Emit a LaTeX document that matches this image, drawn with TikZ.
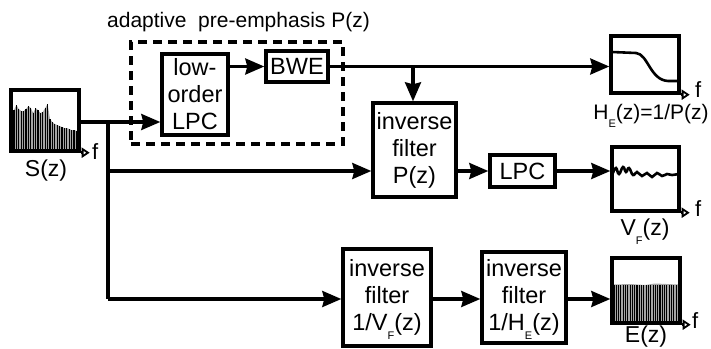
\documentclass[tikz,border=0pt]{standalone}
\usepackage{fontspec}
\setmainfont{Liberation Sans}
\usetikzlibrary{arrows.meta}
\newcommand\lsub[1]{\raisebox{-8.5pt}[0pt][0pt]{\fontsize{11}{11}\selectfont #1}}
\begin{document}
\begin{tikzpicture}[x=1pt,y=-1pt,
  blk/.style={draw, line width=3.4pt, fill=white, align=center, inner sep=0pt, font=\fontsize{23.5}{27}\selectfont},
  plotbox/.style={draw, line width=3.4pt, inner sep=0pt},
  conn/.style={line width=3.1pt, -{Stealth[length=19pt,width=16pt,inset=2pt]}},
  wire/.style={line width=3.1pt},
  axis/.style={line width=3.4pt, -{Triangle[open,length=8pt,width=10pt,line width=1.8pt]}},
  lbl/.style={font=\fontsize{23}{26}\selectfont, inner sep=0pt},
  fl/.style={font=\fontsize{22}{24}\selectfont, inner sep=0pt, anchor=west},
  bar/.style={line width=1.1pt},
  env/.style={fill=black!35},
]
\useasboundingbox (0,0) rectangle (711,348);

% ---------- S(z) spectrum ----------
\fill[env] (13,151) -- (14,110) -- (16.4,105) -- (18.8,109) -- (21.2,111) -- (23.6,111) -- (26,109) -- (28.4,106) -- (30.8,108) -- (33.2,113) -- (35.6,108) -- (38,110) -- (40.4,113) -- (42.8,112) -- (45.2,108) -- (47.6,104) -- (50,119) -- (52.4,122) -- (54.8,124) -- (57.2,125) -- (59.6,126) -- (62,127) -- (64.4,128) -- (66.8,128) -- (69.2,129) -- (71.6,130) -- (74,130) -- (77,131) -- (77,151) -- cycle;
\foreach \x/\t in {14/110, 16.4/105, 18.8/109, 21.2/111, 23.6/111, 26/109, 28.4/106, 30.8/108, 33.2/113, 35.6/108, 38/110, 40.4/113, 42.8/112, 45.2/108, 47.6/104, 50/119, 52.4/122, 54.8/124, 57.2/125, 59.6/126, 62/127, 64.4/128, 66.8/128, 69.2/129, 71.6/130, 74/130, 76.4/131}
  \draw[bar] (\x,151) -- (\x,\t);
\node[plotbox, minimum width=68pt, minimum height=61pt] (S) at (45,120.5) {};
\draw[axis] (S.south east) -- ++(9,0);
\node[fl] (fS) at (92,152) {f};
\node[lbl] (Sl) at (46,171) {S(z)};

% ---------- pre-emphasis ----------
\node[draw, line width=3.2pt, dash pattern=on 9pt off 6pt, minimum width=212pt, minimum height=102pt, inner sep=0pt] (pe) at (237,93) {};
\node[anchor=west, inner sep=0pt, font=\fontsize{21}{24}\selectfont] (pel) at (107,22) {adaptive\ \ pre-emphasis P(z)};
\node[blk, minimum width=66pt, minimum height=81pt] (lo) at (195,94.5) {low-\\order\\LPC};
\node[blk, minimum width=62pt, minimum height=31pt] (bwe) at (297,66.5) {BWE};

% ---------- H_E ----------
\node[plotbox, minimum width=68pt, minimum height=57pt] (HE) at (645,64.5) {};
\draw[line width=2.6pt] (612,52) -- (636,53) .. controls (648,54) and (650,80) .. (668,81) -- (678,81);
\draw[axis] (HE.south east) -- ++(9,0);
\node[fl] (fHE) at (695,90) {f};
\node[inner sep=0pt, font=\fontsize{21}{24}\selectfont] (HEl) at (651,114) {H\lsub{E}(z)=1/P(z)};

% ---------- inverse filter P, LPC ----------
\node[blk, minimum width=83pt, minimum height=94pt] (P) at (414.5,150) {inverse\\filter\\P(z)};
\node[blk, minimum width=65pt, minimum height=32pt] (lpc) at (522.5,171) {LPC};

% ---------- V_F ----------
\node[plotbox, minimum width=67pt, minimum height=64pt] (VF) at (645.5,179) {};
\draw[line width=2.6pt] plot[smooth, tension=0.8] coordinates {(613,173) (616,168) (619,174) (623,167) (626,172) (629,168) (633,175) (637,172) (642,176) (647,173) (652,177) (657,173) (662,176) (667,174) (672,175) (678,174)};
\draw[axis] (VF.south east) -- ++(9,0);
\node[fl] (fVF) at (695,209) {f};
\node[lbl] (VFl) at (645,230) {V\lsub{F}(z)};

% ---------- inverse filters bottom ----------
\node[blk, minimum width=88pt, minimum height=97pt] (ivf) at (387,297.5) {inverse\\filter\\1/V\lsub{F}(z)};
\node[blk, minimum width=84pt, minimum height=91pt] (ihe) at (524,297.5) {inverse\\filter\\1/H\lsub{E}(z)};

% ---------- E ----------
\fill[env] (614,323) -- (614,284.5) -- (630,284) -- (645,285) -- (655,283.5) -- (678,284.5) -- (678,323) -- cycle;
\foreach \x in {614,616.3,...,678.5}
  \draw[bar] (\x,323) -- (\x,284.5);
\node[plotbox, minimum width=68pt, minimum height=65pt] (E) at (646,290.5) {};
\draw[axis] (E.south east) -- ++(9,0);
\node[fl] (fE) at (692,321) {f};
\node[lbl] (El) at (646,337) {E(z)};

% ---------- connectors ----------
\coordinate (j1) at (108,122);
\coordinate (j2) at (108,171);
\coordinate (j3) at (108,299);
\coordinate (j4) at (413,66.5);
\draw[wire] (S.east |- j1) -- (j1);
\draw[conn] (j1) -- (j1 -| lo.west);
\draw[wire] (j1) -- (j3);
\draw[conn] (j2) -- (j2 -| P.west);
\draw[conn] (j3) -- (j3 -| ivf.west);
\draw[conn] (lo.east |- bwe) -- (bwe.west);
\draw[conn] (bwe.east) -- (bwe.east -| HE.west);
\draw[conn] (j4) -- (j4 |- P.north);
\draw[conn] (P.east |- j2) -- (lpc.west);
\draw[conn] (lpc.east) -- (lpc.east -| VF.west);
\draw[conn] (ivf.east |- j3) -- (j3 -| ihe.west);
\draw[conn] (ihe.east |- j3) -- (j3 -| E.west);
\end{tikzpicture}
\end{document}
